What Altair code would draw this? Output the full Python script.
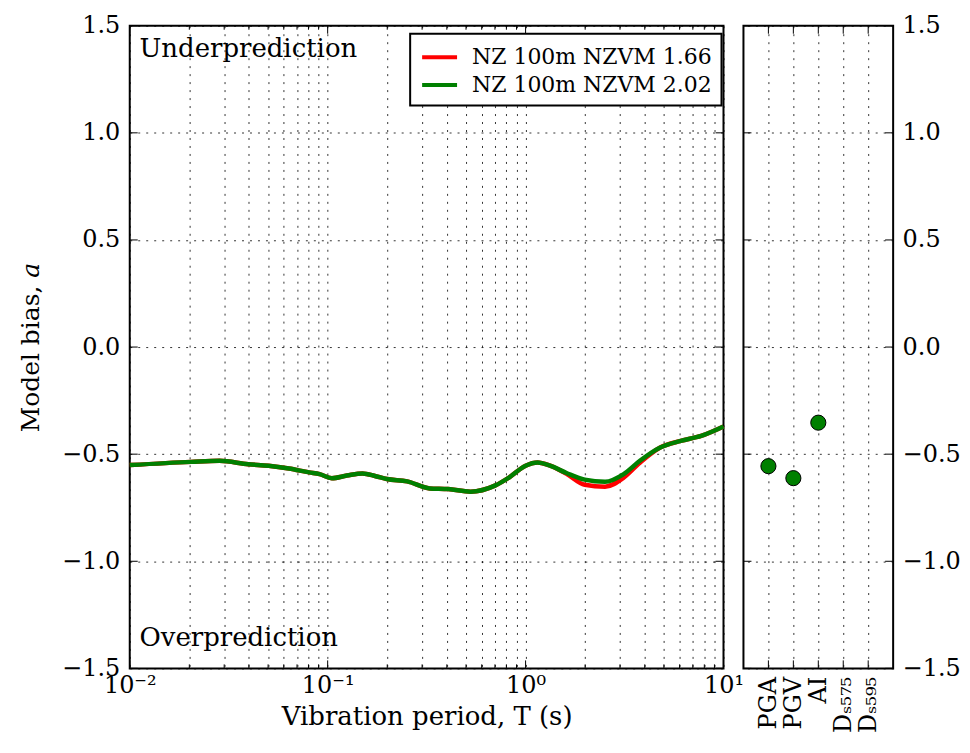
import altair as alt
import pandas as pd

# ---- data ----
periods = [0.01, 0.0204, 0.0284, 0.0397, 0.0503, 0.0637, 0.0807, 0.091, 0.105, 0.125,
           0.150, 0.175, 0.199, 0.252, 0.328, 0.406, 0.527, 0.700, 0.828, 1.0,
           1.15, 1.33, 1.61, 1.99, 2.52, 3.13, 3.78, 4.79, 6.08, 7.71, 10.0]
bias_166 = [-0.551, -0.536, -0.531, -0.547, -0.554, -0.567, -0.585, -0.593, -0.612, -0.600,
            -0.590, -0.603, -0.616, -0.627, -0.660, -0.663, -0.675, -0.647, -0.608, -0.554,
            -0.539, -0.554, -0.592, -0.643, -0.652, -0.610, -0.540, -0.469, -0.438, -0.415, -0.371]
bias_202 = [-0.551, -0.536, -0.531, -0.547, -0.554, -0.567, -0.585, -0.593, -0.612, -0.600,
            -0.590, -0.603, -0.616, -0.627, -0.660, -0.663, -0.675, -0.647, -0.608, -0.554,
            -0.539, -0.554, -0.588, -0.619, -0.629, -0.593, -0.531, -0.469, -0.438, -0.415, -0.371]
series_names = ["NZ 100m NZVM 1.66", "NZ 100m NZVM 2.02"]
series_colors = ["#ff0000", "#008000"]

imt_names = ["PGA", "PGV", "AI", "Dₛ₅₇₅", "Dₛ₅₉₅"]
imt_bias = [-0.556, -0.612, -0.353, None, None]

ann_text = ["Underprediction", "Overprediction"]
ann_T = [0.0112, 0.0112]
ann_bias = [1.393, -1.36]

y_ticks = [-1.5, -1.0, -0.5, 0.0, 0.5, 1.0, 1.5]
x_major = [0.01, 0.1, 1.0, 10.0]
x_minor = [round(k * 10.0 ** e, 4) for e in (-2, -1, 0) for k in range(2, 10)]
x_ticks = sorted(x_major + x_minor)

FONT = "DejaVu Serif"
W, H, WR = 595, 644, 150

rows = []
for name, vals in zip(series_names, [bias_166, bias_202]):
    for t, b in zip(periods, vals):
        rows.append({"T": t, "bias": b, "series": name})
df = pd.DataFrame(rows)
ann_df = pd.DataFrame({"T": ann_T, "bias": ann_bias, "label": ann_text})
imt_df = pd.DataFrame({"imt": imt_names, "bias": imt_bias}).dropna()
xmaj_df = pd.DataFrame({"T": x_major})
xmin_df = pd.DataFrame({"T": x_minor})
yt_df = pd.DataFrame({"bias": y_ticks})
imt_tick_df = pd.DataFrame({"imt": imt_names})

xscale = alt.Scale(type="log", domain=[0.01, 10], nice=False)
yscale = alt.Scale(domain=[-1.5, 1.5], nice=False)

label_expr = ("datum.value==0.01?'10⁻²':datum.value==0.1?'10⁻¹':"
              "datum.value==1?'10⁰':datum.value==10?'10¹':''")

lines = alt.Chart(df).mark_line(strokeWidth=4.5, interpolate="monotone").encode(
    x=alt.X("T:Q", scale=xscale,
            axis=alt.Axis(values=x_ticks, labelExpr=label_expr, title="Vibration period, T (s)",
                          labelPadding=5, titlePadding=6, labelFlush=False, labelOverlap=False,
                          titleFontSize=26)),
    y=alt.Y("bias:Q", scale=yscale,
            axis=alt.Axis(values=y_ticks, format=".1f", title="Model bias, 𝑎",
                          labelPadding=10, titlePadding=18, titleFontSize=25)),
    color=alt.Color("series:N", scale=alt.Scale(domain=series_names, range=series_colors),
                    legend=alt.Legend(title=None, orient="none", legendX=281, legendY=8)),
)

ann = alt.Chart(ann_df).mark_text(align="left", baseline="middle", font=FONT, fontSize=26,
                                  color="black").encode(
    x=alt.X("T:Q", scale=xscale),
    y=alt.Y("bias:Q", scale=yscale),
    text="label:N",
)

# inward tick marks (matplotlib classic style)
def xticks_layer(d, length):
    bot = alt.Chart(d).mark_rule(color="black", strokeWidth=1).encode(
        x=alt.X("T:Q", scale=xscale), y=alt.value(H), y2=alt.value(H - length))
    top = alt.Chart(d).mark_rule(color="black", strokeWidth=1).encode(
        x=alt.X("T:Q", scale=xscale), y=alt.value(0), y2=alt.value(length))
    return [bot, top]

def yticks_layer(width):
    l = alt.Chart(yt_df).mark_rule(color="black", strokeWidth=1).encode(
        y=alt.Y("bias:Q", scale=yscale), x=alt.value(0), x2=alt.value(8))
    r = alt.Chart(yt_df).mark_rule(color="black", strokeWidth=1).encode(
        y=alt.Y("bias:Q", scale=yscale), x=alt.value(width), x2=alt.value(width - 8))
    return [l, r]

left = alt.layer(
    lines, ann, *xticks_layer(xmaj_df, 8), *xticks_layer(xmin_df, 4), *yticks_layer(W)
).properties(width=W, height=H)

imt_x = alt.X("imt:N", scale=alt.Scale(type="point", domain=imt_names, padding=1),
              axis=alt.Axis(title=None, labelAngle=-90, labelAlign="right",
                            labelBaseline="middle", labelPadding=8))

pts = alt.Chart(imt_df).mark_circle(size=230, color="#008000", stroke="black",
                                    strokeWidth=1, opacity=1).encode(
    x=imt_x,
    y=alt.Y("bias:Q", scale=yscale,
            axis=alt.Axis(values=y_ticks, format=".1f", orient="right", title=None,
                          labelPadding=9)),
)
rt_bot = alt.Chart(imt_tick_df).mark_rule(color="black", strokeWidth=1).encode(
    x=imt_x, y=alt.value(H), y2=alt.value(H - 8))
rt_top = alt.Chart(imt_tick_df).mark_rule(color="black", strokeWidth=1).encode(
    x=imt_x, y=alt.value(0), y2=alt.value(8))

right = alt.layer(pts, rt_bot, rt_top, *yticks_layer(WR)).properties(width=WR, height=H)

chart = alt.hconcat(left, right, spacing=20, bounds="flush").properties(
    padding={"left": 9, "top": 4, "right": 0, "bottom": 0}
).configure_view(
    stroke="black", strokeWidth=2
).configure_axis(
    labelFont=FONT, titleFont=FONT, labelFontSize=24, titleFontSize=26,
    titleFontWeight="normal", labelColor="black", titleColor="black",
    domain=False, ticks=False,
    grid=True, gridColor="black", gridDash=[2, 6], gridWidth=1, gridOpacity=0.8,
).configure_legend(
    labelFont=FONT, labelFontSize=22, labelColor="black", labelLimit=0,
    symbolType="M-1.4,0H1.4", symbolStrokeWidth=4, symbolSize=625, symbolOffset=6,
    strokeColor="black", strokeWidth=2, fillColor="white", padding=9, cornerRadius=0,
    rowPadding=2, labelOffset=18,
)

chart.save("out.html", embed_options={"renderer": "svg", "actions": False})
